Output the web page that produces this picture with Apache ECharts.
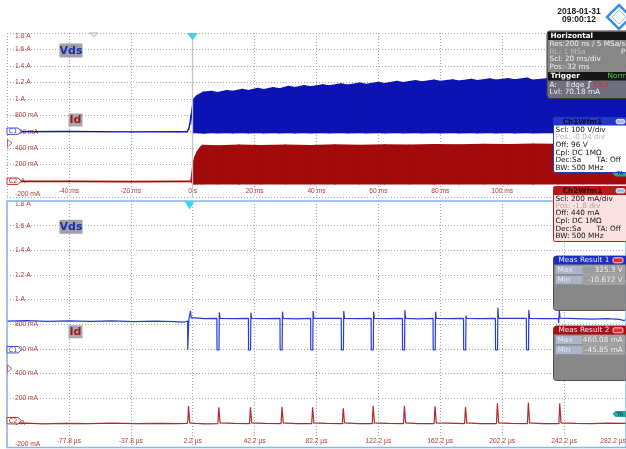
<!DOCTYPE html>
<html><head><meta charset="utf-8">
<script src="https://cdn.jsdelivr.net/npm/echarts@6.0.0/dist/echarts.min.js"></script>
<style>html,body{margin:0;padding:0;background:#fff}#c{width:626px;height:449px}</style>
</head><body><div id="c"></div>
<script>
// ---------- tick labels ----------
const yTickValues = [-0.2, 0, 0.2, 0.4, 0.6, 0.8, 1.0, 1.2, 1.4, 1.6, 1.8];
const yTickLabels = ['-200 mA', '0 A', '200 mA', '400 mA', '600 mA', '800 mA', '1 A', '1.2 A', '1.4 A', '1.6 A', '1.8 A'];
const topXTicks = [-60, -40, -20, 0, 20, 40, 60, 80, 100, 120, 140];
const topXLabels = ['', '-40 ms', '-20 ms', '0 s', '20 ms', '40 ms', '60 ms', '80 ms', '100 ms', '120 ms', ''];
const botXTicks = [-117.8, -77.8, -37.8, 2.2, 42.2, 82.2, 122.2, 162.2, 202.2, 242.2, 282.2];
const botXLabels = ['', '-77.8 µs', '-37.8 µs', '2.2 µs', '42.2 µs', '82.2 µs', '122.2 µs', '162.2 µs', '202.2 µs', '242.2 µs', '282.2 µs'];

// ---------- top panel (time in ms), envelopes ----------
const topBlueT = [-60, -40, -20, -5, -1.8, -1.3, -0.9, -0.6, -0.4, 0.2, 1.3, 3.5, 6, 8, 11, 13, 16, 18, 21, 23, 26, 28, 31, 33, 36, 38, 42, 44, 48, 50, 54, 56, 60, 62, 66, 68, 72, 74, 78, 80, 84, 86, 90, 92, 96, 98, 102, 104, 108, 110, 115, 120, 125, 130, 135, 140];
const topBlueHigh = [0.6, 0.602, 0.598, 0.6, 0.6, 0.63, 0.70, 0.78, 0.82, 0.99,
  1.035, 1.08, 1.09, 1.075, 1.10, 1.09, 1.115, 1.10, 1.125, 1.11,
  1.135, 1.12, 1.15, 1.135, 1.16, 1.145, 1.17, 1.155, 1.18, 1.165,
  1.19, 1.175, 1.20, 1.185, 1.21, 1.195, 1.22, 1.205, 1.225, 1.21,
  1.23, 1.215, 1.235, 1.22, 1.24, 1.225, 1.245, 1.23, 1.25, 1.225,
  1.245, 1.225, 1.24, 1.22, 1.235, 1.225];
const topBlueLow = [0.6, 0.602, 0.598, 0.6, 0.6, 0.63, 0.70, 0.78, 0.82, 0.59,
  0.59, 0.585, 0.59, 0.588, 0.59, 0.586, 0.59, 0.588, 0.59, 0.586,
  0.59, 0.588, 0.59, 0.586, 0.59, 0.588, 0.59, 0.586, 0.59, 0.588,
  0.59, 0.586, 0.59, 0.588, 0.59, 0.586, 0.59, 0.588, 0.59, 0.586,
  0.59, 0.588, 0.59, 0.586, 0.59, 0.588, 0.59, 0.586, 0.59, 0.588,
  0.59, 0.586, 0.59, 0.588, 0.59, 0.588];

const topRedT = [-60, -40, -20, -0.5, 0.2, 0.8, 1.6, 2.6, 3.2, 8, 15, 22, 30, 38, 46, 54, 62, 70, 78, 86, 94, 102, 110, 118, 126, 134, 140];
const topRedHigh = [-0.005, -0.003, -0.006, -0.005, 0.22, 0.29, 0.36, 0.41, 0.43,
  0.425, 0.432, 0.426, 0.433, 0.428, 0.435, 0.43, 0.437, 0.433, 0.44, 0.436, 0.443, 0.44, 0.447, 0.444, 0.45, 0.447, 0.452];
const topRedLow = [-0.005, -0.003, -0.006, -0.005, -0.03, -0.03, -0.032, -0.03, -0.031,
  -0.03, -0.032, -0.03, -0.031, -0.03, -0.032, -0.03, -0.031, -0.03, -0.032, -0.03, -0.031, -0.03, -0.032, -0.03, -0.031, -0.03, -0.03];

// ---------- bottom panel (time in µs) ----------
const botBlue = [
  [-117.8,0.826],[-105,0.829],[-92,0.823],[-78,0.828],[-64,0.824],[-50,0.827],[-36,0.822],[-22,0.826],[-10,0.821],[-3,0.818],[-1.1,0.826],
  [-1.0,0.591],[-0.5,0.591],[-0.3,0.84],[0.6,0.842],[0.8,0.908],[1.2,0.852],[2.2,0.838],[3.2,0.852],[10,0.846],
  [17.8,0.848],[17.9,0.591],[19.2,0.591],[19.4,0.897],[19.9,0.848],[29,0.845],
  [38.2,0.848],[38.3,0.591],[39.6,0.591],[39.8,0.894],[40.3,0.848],[49,0.846],
  [58.6,0.848],[58.7,0.591],[60.0,0.591],[60.2,0.902],[60.7,0.848],[69,0.844],
  [78.4,0.848],[78.5,0.591],[79.8,0.591],[80.0,0.910],[80.5,0.848],[89,0.847],
  [98.2,0.848],[98.3,0.591],[99.6,0.591],[99.8,0.908],[100.3,0.848],[109,0.845],
  [117.5,0.848],[117.6,0.591],[118.9,0.591],[119.1,0.902],[119.6,0.848],[128,0.846],
  [137.7,0.848],[137.8,0.591],[139.1,0.591],[139.3,0.916],[139.8,0.848],[148,0.844],
  [157.5,0.848],[157.6,0.591],[158.9,0.591],[159.1,0.902],[159.6,0.848],[168,0.846],
  [177.2,0.848],[177.3,0.591],[178.6,0.591],[178.8,0.869],[179.3,0.848],[188,0.845],
  [197.8,0.848],[197.9,0.591],[199.2,0.591],[199.4,0.934],[199.9,0.848],[208,0.847],
  [217.8,0.848],[217.9,0.591],[219.2,0.591],[219.4,0.916],[219.9,0.848],[228,0.845],
  [238.5,0.848],[238.7,0.81],[239.1,0.916],[239.6,0.85],[250,0.846],[260,0.842],[270,0.845],[278,0.840],[281,0.83],[282.2,0.838]
];
const botRed = [
  [-117.8,-0.005],[-105,-0.002],[-95,-0.008],[-80,-0.004],[-65,-0.007],[-50,-0.003],[-35,-0.006],[-20,-0.004],[-8,-0.007],[-1.4,-0.004],
  [-0.9,0.02],[-0.5,0.137],[0.3,0.0],[1.5,-0.012],[4,-0.005],[10,-0.008],
  [18.5,-0.006],[19.1,0.126],[19.9,0.0],[21,-0.01],[29,-0.005],
  [38.9,-0.006],[39.5,0.126],[40.3,0.0],[41.4,-0.01],[49,-0.004],
  [59.3,-0.006],[59.9,0.131],[60.7,0.0],[61.8,-0.01],[69,-0.006],
  [79.1,-0.006],[79.7,0.126],[80.5,0.0],[81.6,-0.01],[89,-0.004],
  [98.9,-0.006],[99.5,0.118],[100.3,0.0],[101.4,-0.01],[109,-0.007],
  [118.2,-0.006],[118.8,0.139],[119.6,0.0],[120.7,-0.01],[128,-0.004],
  [138.4,-0.006],[139.0,0.137],[139.8,0.0],[140.9,-0.01],[148,-0.006],
  [158.2,-0.006],[158.8,0.134],[159.6,0.0],[160.7,-0.01],[168,-0.003],
  [177.9,-0.006],[178.5,0.128],[179.3,0.0],[180.4,-0.01],[188,-0.006],
  [198.5,-0.006],[199.1,0.159],[199.9,0.0],[201,-0.01],[208,-0.004],
  [218.5,-0.006],[219.1,0.164],[219.9,0.0],[221,-0.01],[228,-0.006],
  [238.8,-0.006],[239.4,0.159],[240.2,0.0],[241.3,-0.01],[250,-0.004],[260,-0.007],[270,-0.003],[282.2,-0.005]
];

// ---------- build ----------
const BLUE = '#0c13b2', RED = '#a10b0b', BLUE2 = '#2a3ad4', RED2 = '#b02a2a';
const LBL = '#ad3a3a';
const AF = '"Liberation Sans", Arial, sans-serif';
const PF = '"DejaVu Sans", sans-serif';

// band series: each item = one segment [t0, low0, high0, t1, low1, high1], drawn as a polygon through the axes
function bandItems(t, lo, hi) {
  const out = [];
  for (let i = 0; i < t.length - 1; i++) out.push([t[i], lo[i], hi[i], t[i + 1], lo[i + 1], hi[i + 1]]);
  return out;
}
function bandSeries(t, lo, hi, color, lw) {
  return {
    type: 'custom', xAxisIndex: 0, yAxisIndex: 0, clip: true, z: 3, silent: true,
    encode: { x: [0, 3], y: [1, 2, 4, 5] },
    data: bandItems(t, lo, hi),
    renderItem: function (params, api) {
      const a = api.coord([api.value(0), api.value(2)]);
      const b = api.coord([api.value(3), api.value(5)]);
      const c = api.coord([api.value(3), api.value(4)]);
      const d = api.coord([api.value(0), api.value(1)]);
      return { type: 'polygon', shape: { points: [a, b, c, d] },
        style: { fill: color, stroke: color, lineWidth: lw, lineJoin: 'round' } };
    }
  };
}

const gridLine = { show: true, lineStyle: { color: '#a4a4a4', type: [1, 2], width: 1 } };
function yAxis(gi) {
  return {
    gridIndex: gi, type: 'value', min: -0.2, max: 1.8, interval: 0.2,
    axisLine: { show: false }, axisTick: { show: false }, splitLine: gridLine,
    axisLabel: {
      inside: true, margin: 8, color: LBL, fontSize: 6.7, fontFamily: AF,
      verticalAlignMaxLabel: 'top', verticalAlignMinLabel: 'bottom',
      formatter: v => { const i = yTickValues.findIndex(t => Math.abs(t - v) < 1e-6); return i >= 0 ? yTickLabels[i] : ''; }
    }
  };
}

function T(text, x, y, fill, size, extra) {
  return { type: 'text', x: x, y: y, z: 120, silent: true,
    style: Object.assign({ text: text, fill: fill, fontSize: size, fontFamily: PF, verticalAlign: 'middle', align: 'left' }, extra || {}) };
}
function R(x, y, w, h, fill, stroke, r, lw, z) {
  return { type: 'rect', z: z || 110, silent: true, shape: { x: x, y: y, width: w, height: h, r: r || 0 },
    style: { fill: fill, stroke: stroke || null, lineWidth: lw || 1 } };
}
function P(points, fill, stroke, lw, z) {
  return { type: 'polygon', z: z || 110, silent: true, shape: { points: points }, style: { fill: fill, stroke: stroke || null, lineWidth: lw || 1 } };
}

const graphics = [];
// date + logo
graphics.push(T('2018-01-31', 579, 11.5, '#1c1c1c', 8.5, { align: 'center', fontWeight: 'bold', fontFamily: AF }));
graphics.push(T('09:00:12', 579, 19.5, '#1c1c1c', 8.5, { align: 'center', fontWeight: 'bold', fontFamily: AF }));
graphics.push(P([[619, 5], [631, 17], [619, 29], [607, 17]], 'none', '#3b8fe2', 2.5));
graphics.push(P([[619, 10], [626, 17], [619, 24], [612, 17]], 'none', '#8cc0f2', 1));
// bottom panel frame
graphics.push(R(7, 201, 619, 246.5, 'none', '#86b6f2', 0, 1.5, 60));
// channel label boxes
[[43.5, 113.5], [219.8, 325.3]].forEach(([yv, yi]) => {
  graphics.push(R(59.5, yv, 23, 14, '#a2a2a2', null, 0, 1, 90));
  graphics.push(T('Vds', 71, yv + 7.3, '#1c2bb5', 11, { align: 'center', fontWeight: 'bold' }));
  graphics.push(R(68.5, yi, 14, 13, '#a8a8a8', null, 0, 1, 90));
  graphics.push(T('Id', 75.5, yi + 6.8, '#9e1818', 11, { align: 'center', fontWeight: 'bold' }));
});
// left markers
[[128, 139.5, 178], [346.5, 365, 417.5]].forEach(([c1, tr, c2]) => {
  graphics.push(P([[7, c1], [18, c1], [21.5, c1 + 3.2], [18, c1 + 6.4], [7, c1 + 6.4]], '#ffffff', '#3f4fe0', 1));
  graphics.push(T('C1', 13, c1 + 3.4, '#3040d0', 6.3, { align: 'center' }));
  graphics.push(P([[7.5, tr], [12, tr + 3.6], [7.5, tr + 7.2]], 'none', '#c0607e', 1));
  graphics.push(P([[7, c2], [18, c2], [21.5, c2 + 3.2], [18, c2 + 6.4], [7, c2 + 6.4]], '#ffffff', '#c03434', 1));
  graphics.push(T('C2', 13, c2 + 3.4, '#b02020', 6.3, { align: 'center' }));
});
// right TA tags
[170.5, 411].forEach(y0 => {
  graphics.push(P([[612.5, y0 + 3], [615.5, y0], [626, y0], [626, y0 + 6], [615.5, y0 + 6]], '#2aa3a3', null, 1, 100));
  graphics.push(T('TA', 620, y0 + 3.2, '#0c3c3c', 5.5, { align: 'center', z: 101 }));
});
// trigger markers
graphics.push(P([[187, 33], [198, 33], [192.5, 40]], '#37d6ea', null, 1));
graphics.push(P([[184.5, 201], [194.5, 201], [189.5, 209.5]], '#37d6ea', null, 1));
graphics.push(P([[89.5, 33], [98, 33], [93.75, 36.5]], '#ffffff', '#a8a8a8', 1));

// Horizontal / Trigger box
const WH = '#f2f2f2';
graphics.push(R(547, 31, 82, 67.5, 'rgba(122,122,122,0.9)', '#3a3a3a', 3, 1));
graphics.push(R(548, 32, 80, 8, '#161616', null, 0));
graphics.push(T('Horizontal', 550.5, 36, '#ffffff', 7.3, { fontWeight: 'bold' }));
graphics.push(T('Res:200 ns / 5 MSa/s', 549.5, 44, WH, 7.3));
graphics.push(T('RL: 1 MSa', 549.5, 52, '#bcbcbc', 7.3));
graphics.push(T('P', 621, 52, WH, 7.3));
graphics.push(T('Scl: 20 ms/div', 549.5, 59.5, WH, 7.3));
graphics.push(T('Pos:-32 ms', 549.5, 67.3, WH, 7.3));
graphics.push(R(548, 72, 80, 8.5, '#161616', null, 0));
graphics.push(T('Trigger', 550.5, 76.5, '#ffffff', 7.3, { fontWeight: 'bold' }));
graphics.push(T('Norm', 607.5, 76.5, '#4fd24f', 7.3));
graphics.push(T('A:    Edge', 549.5, 84.7, WH, 7.3));
graphics.push({ type: 'polyline', z: 120, silent: true, shape: { points: [[586.5, 88], [589, 88], [589, 81.5], [591.5, 81.5]] }, style: { stroke: WH, lineWidth: 1, fill: null } });
graphics.push(T('Ch2', 594, 84.7, '#e02626', 7.3));
graphics.push(T('Lvl: 70.18 mA', 549.5, 92.3, WH, 7.3));

// Ch1Wfm1 box
graphics.push(R(553.5, 117.5, 74, 55, '#ffffff', '#2236c8', 2, 1));
graphics.push(R(553.5, 117.5, 74, 8, '#2236c8', null, 0));
graphics.push(T('Ch1Wfm1', 582.5, 121.8, '#0b0b34', 7.3, { align: 'center', fontWeight: 'bold' }));
graphics.push(R(616, 119.3, 9, 4.5, '#a3b8ff', '#ffffff', 2, 0.8));
[['Scl: 100 V/div', 130, '#111'], ['Pos: -0.04 div', 137.5, '#b5b5b5'], ['Off: 96 V', 145.5, '#111'], ['Cpl: DC 1MΩ', 153, '#111'], ['Dec:Sa', 160.5, '#111'], ['BW: 500 MHz', 168, '#111']]
  .forEach(([t, y, c]) => graphics.push(T(t, 555.5, y, c, 7.3)));
graphics.push(T('TA: Off', 596.5, 160.5, '#111', 7.3));

// Ch2Wfm1 box
graphics.push(R(553.5, 186.5, 74, 55, '#fbe1e1', '#b81818', 2, 1));
graphics.push(R(553.5, 186.5, 74, 8.5, '#b81818', null, 0));
graphics.push(T('Ch2Wfm1', 582.5, 191, '#3a0505', 7.3, { align: 'center', fontWeight: 'bold' }));
graphics.push(R(616, 188.5, 9, 4.5, '#a3b8ff', '#ffffff', 2, 0.8));
[['Scl: 200 mA/div', 199, '#111'], ['Pos: -1.8 div', 206, '#b5a5a5'], ['Off: 440 mA', 213.5, '#111'], ['Cpl: DC 1MΩ', 221, '#111'], ['Dec:Sa', 229, '#111'], ['BW: 500 MHz', 236.5, '#111']]
  .forEach(([t, y, c]) => graphics.push(T(t, 555.5, y, c, 7.3)));
graphics.push(T('TA: Off', 596.5, 229, '#111', 7.3));

// Measurement boxes
function meas(y0, hdr, title, maxV, minV) {
  graphics.push(R(553.5, y0, 74, 54.5, 'rgba(130,130,130,0.95)', '#505050', 3, 1));
  graphics.push(R(553.5, y0, 74, 8.5, hdr, null, [3, 3, 0, 0]));
  graphics.push(T(title, 558.5, y0 + 4.4, '#e4e9ff', 7.3));
  graphics.push(R(613, y0 + 1.8, 10, 5, '#e23030', '#ffffff', 1.5, 0.8));
  [[y0 + 9.7, 'Max', maxV], [y0 + 19.7, 'Min', minV]].forEach(([yy, lab, val]) => {
    graphics.push(R(555.5, yy, 26.5, 8.5, '#abb4c8', null, 0));
    graphics.push(R(582.8, yy, 41.5, 8.5, '#9c9c9c', '#bdbdbd', 0, 0.6));
    graphics.push(T(lab, 557.5, yy + 4.4, '#e6ebf6', 7.3));
    graphics.push(T(val, 622.8, yy + 4.4, '#f0f0f0', 7.3, { align: 'right' }));
  });
}
meas(256, '#1d2fc0', 'Meas Result 1', '325.3 V', '-10.672 V');
meas(326, '#a81212', 'Meas Result 2', '460.08 mA', '-45.85 mA');

const option = {
  animation: false,
  backgroundColor: '#ffffff',
  grid: [
    { left: 7, top: 33, width: 619, height: 164.5, outerBoundsMode: 'none', containLabel: false },
    { left: 7, top: 201, width: 619, height: 246.5, outerBoundsMode: 'none', containLabel: false }
  ],
  xAxis: [
    { gridIndex: 0, type: 'value', min: -60, max: 140, interval: 20,
      axisLine: { show: false }, axisTick: { show: false }, splitLine: gridLine,
      axisLabel: { inside: true, margin: 3, color: LBL, fontSize: 6.7, fontFamily: AF,
        formatter: v => { const i = topXTicks.findIndex(t => Math.abs(t - v) < 1e-6); return i >= 0 ? topXLabels[i] : ''; } } },
    { gridIndex: 1, type: 'value', min: -117.8, max: 282.2,
      axisLine: { show: false }, axisTick: { show: false, customValues: botXTicks }, splitLine: gridLine,
      axisLabel: { inside: true, margin: 3, color: LBL, fontSize: 6.7, fontFamily: AF, customValues: botXTicks,
        alignMaxLabel: 'right',
        formatter: v => { const i = botXTicks.findIndex(t => Math.abs(t - v) < 1e-6); return i >= 0 ? botXLabels[i] : ''; } } }
  ],
  yAxis: [yAxis(0), yAxis(1)],
  series: [
    Object.assign(bandSeries(topBlueT, topBlueLow, topBlueHigh, BLUE, 1.4), {
      markLine: { silent: true, symbol: ['none', 'none'], label: { show: false },
        lineStyle: { type: 'solid', color: '#c4c4c4', width: 1.3 }, data: [{ xAxis: 0 }] } }),
    bandSeries(topRedT, topRedLow, topRedHigh, RED, 1.8),
    { type: 'line', xAxisIndex: 1, yAxisIndex: 1, data: botBlue, symbol: 'none', lineStyle: { color: BLUE2, width: 1.2 }, z: 3 },
    { type: 'line', xAxisIndex: 1, yAxisIndex: 1, data: botRed, symbol: 'none', lineStyle: { color: RED2, width: 1.2 }, z: 3 }
  ],
  graphic: { elements: graphics }
};
const chart = echarts.init(document.getElementById('c'), null, { renderer: 'canvas' });
chart.setOption(option);
</script></body></html>
